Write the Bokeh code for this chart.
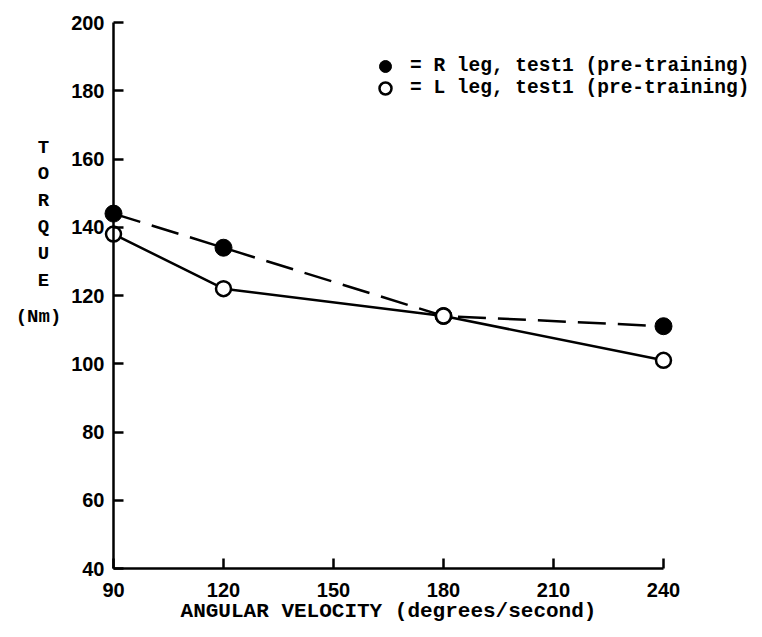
from bokeh.plotting import figure
from bokeh.models import Label, Legend, LegendItem, FixedTicker, Range1d
from bokeh.embed import file_html
from bokeh.resources import INLINE

# ---- data ----
velocity = [90, 120, 180, 240]
torque_right = [144, 134, 114, 111]
torque_left = [138, 122, 114, 101]
x_ticks = [90, 120, 150, 180, 210, 240]
y_ticks = [40, 60, 80, 100, 120, 140, 160, 180, 200]
legend_labels = ["= R leg, test1 (pre-training)", "= L leg, test1 (pre-training)"]
y_label_letters = ["T", "O", "R", "Q", "U", "E"]
y_label_unit = "(Nm)"
x_label = "ANGULAR VELOCITY (degrees/second)"

X0, X1 = 90, 240
Y0, Y1 = 40, 200

# layout (pixels within the canvas)
W, H = 754, 621
AX_LEFT, AX_RIGHT = 113, 663     # x = 90 .. 240
AX_TOP, AX_BOTTOM = 22, 568      # y = 200 .. 40
sx = (AX_RIGHT - AX_LEFT) / (X1 - X0)
sy = (AX_BOTTOM - AX_TOP) / (Y1 - Y0)
x_start = X0 - AX_LEFT / sx
x_end = X1 + (W - AX_RIGHT) / sx
y_end = Y1 + AX_TOP / sy
y_start = Y0 - (H - AX_BOTTOM) / sy

p = figure(width=W, height=H, x_range=Range1d(x_start, x_end), y_range=Range1d(y_start, y_end),
           output_backend="svg", toolbar_location=None,
           min_border_left=0, min_border_right=0, min_border_top=0, min_border_bottom=0)
p.outline_line_color = None
p.grid.visible = False
p.background_fill_color = "white"

mono = "Liberation Mono"
for ax in (p.xaxis[0], p.yaxis[0]):
    ax.axis_line_width = 2.5
    ax.axis_line_color = "black"
    ax.major_tick_line_width = 2.5
    ax.major_tick_in = 10
    ax.major_tick_out = 0
    ax.minor_tick_line_color = None
    ax.major_label_text_font = "Liberation Sans"
    ax.major_label_text_font_style = "bold"
    ax.major_label_text_font_size = "20px"
    ax.major_label_text_color = "black"

p.xaxis.fixed_location = Y0
p.yaxis.fixed_location = X0
p.xaxis.bounds = (X0, X1)
p.yaxis.bounds = (Y0, Y1)
p.xaxis.ticker = FixedTicker(ticks=x_ticks)
p.yaxis.ticker = FixedTicker(ticks=y_ticks)
p.xaxis.major_label_standoff = 14
p.yaxis.major_label_standoff = 9
p.xaxis.axis_label = x_label
p.xaxis.axis_label_text_font = mono
p.xaxis.axis_label_text_font_style = "bold"
p.xaxis.axis_label_text_font_size = "21px"
p.xaxis.axis_label_text_color = "black"
p.xaxis.axis_label_standoff = 0

# ---- series ----
p.line(velocity, torque_right, line_color="black", line_width=2.5, line_dash="28 12")
p.line(velocity, torque_left, line_color="black", line_width=2.5)
r_right = p.scatter(velocity, torque_right, size=17, fill_color="black", line_color="black")
r_left = p.scatter(velocity, torque_left, size=15, fill_color="white", line_color="black", line_width=2.5)

# ---- legend: one entry per Legend so rows can sit close with large markers ----
legend_rows = [(legend_labels[0], r_right, 66), (legend_labels[1], r_left, 88)]
for text, rend, row_center in legend_rows:
    lg = Legend(items=[LegendItem(label=text, renderers=[rend])],
                location=(370 - 0, H - (row_center + 15)))
    lg.label_text_font = mono
    lg.label_text_font_style = "bold"
    lg.label_text_font_size = "19.5px"
    lg.label_text_color = "black"
    lg.glyph_width = 30
    lg.glyph_height = 30
    lg.label_height = 30
    lg.label_standoff = 10
    lg.padding = 0
    lg.margin = 0
    lg.spacing = 0
    lg.border_line_alpha = 0
    lg.background_fill_alpha = 0
    p.add_layout(lg)

# ---- stacked y label ----
label_x = X0 - 70 / sx
for i, ch in enumerate(y_label_letters):
    p.add_layout(Label(x=label_x, y=Y1 - (125 + 26.6 * i) / sy, text=ch, text_align="center",
                       text_baseline="middle", text_font=mono, text_font_style="bold",
                       text_font_size="19px", text_color="black"))
p.add_layout(Label(x=X0 - 75 / sx, y=Y1 - 294 / sy, text=y_label_unit, text_align="center",
                   text_baseline="middle", text_font=mono, text_font_style="bold",
                   text_font_size="19px", text_color="black"))

open("out.html", "w").write(file_html(p, INLINE))
